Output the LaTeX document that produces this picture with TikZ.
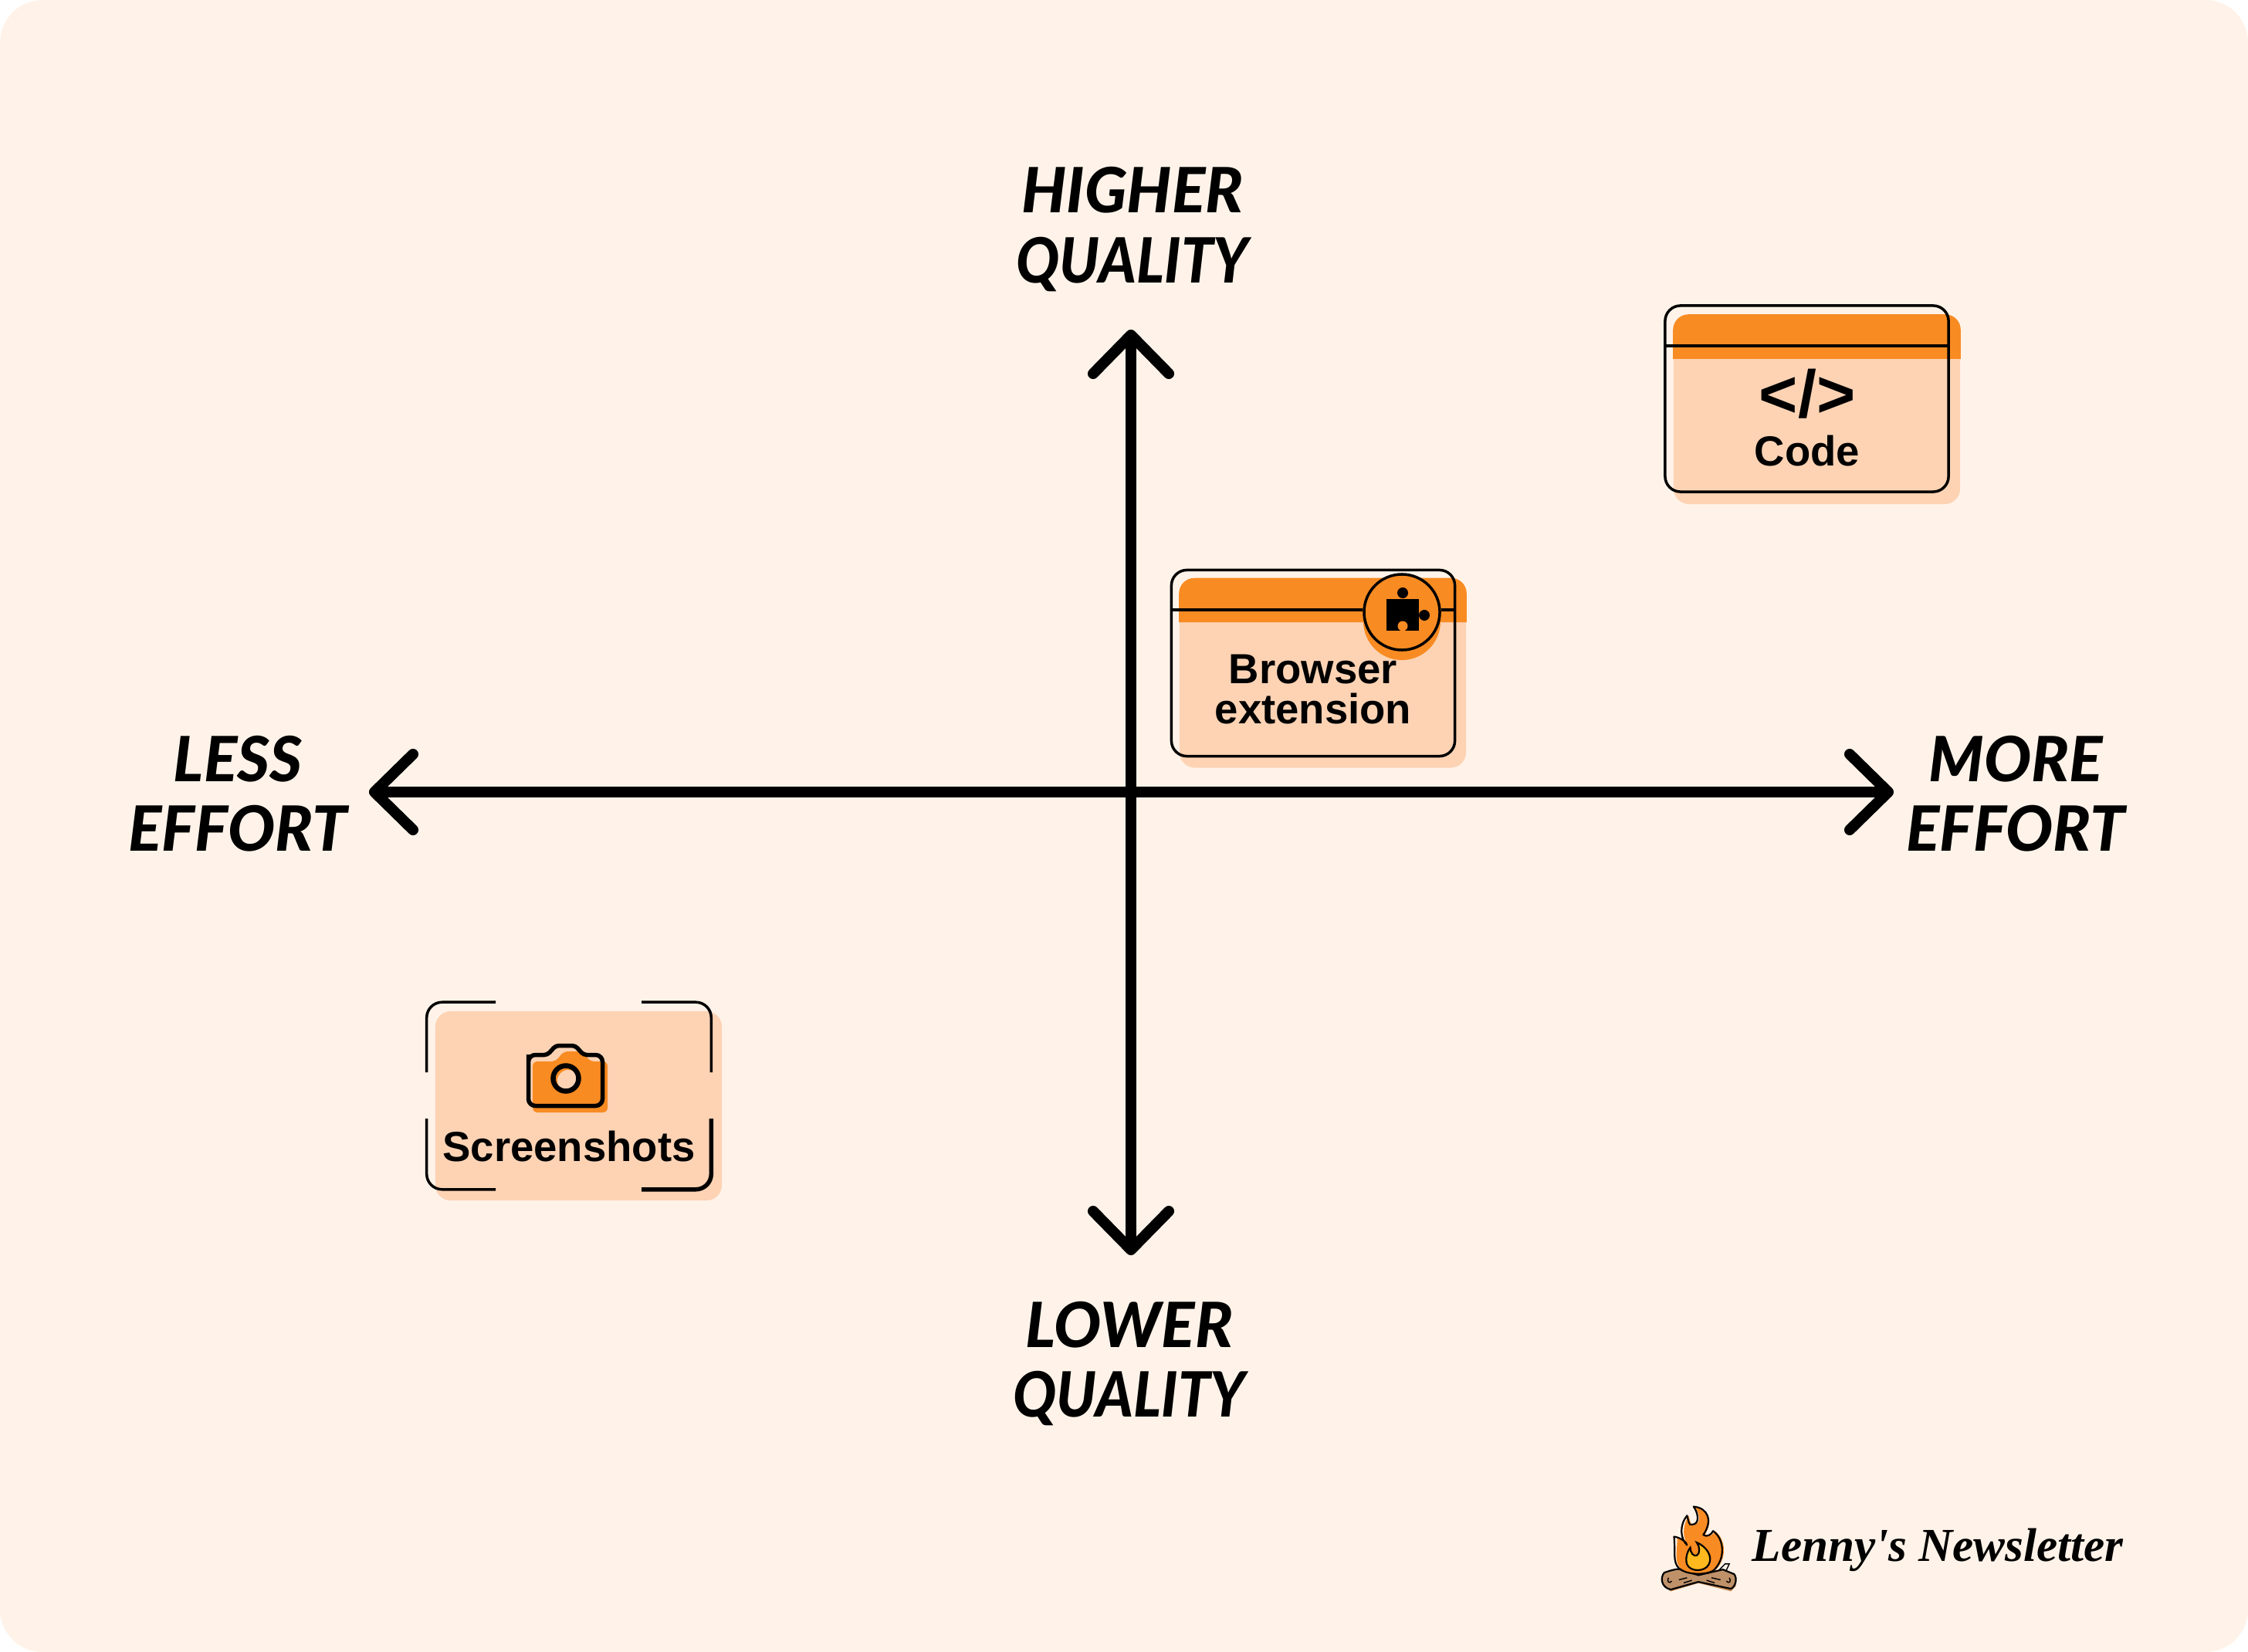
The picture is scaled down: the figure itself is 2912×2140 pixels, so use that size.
\documentclass[tikz,border=0pt]{standalone}
\usepackage{fontspec}
\setmainfont{Liberation Sans}
\newfontfamily\brushfont{Lato}[BoldItalicFont={Lato Black Italic}]
\newfontfamily\logofont{Liberation Serif}
\usetikzlibrary{arrows.meta}
\definecolor{pagebg}{HTML}{FFF3E9}
\definecolor{peach}{HTML}{FDD3B4}
\definecolor{flame}{HTML}{F88B22}
\definecolor{flamecore}{HTML}{FDB91E}
\definecolor{logwood}{HTML}{BF9169}
\newcommand{\narrowword}[1]{\scalebox{0.92}[1]{#1}}
\begin{document}
\begin{tikzpicture}[x=0.01cm,y=-0.01cm,
    axisline/.style={line width=0.14cm,line cap=round,
      {Straight Barb[round,length=0.5cm,width=0.98cm]}-{Straight Barb[round,length=0.5cm,width=0.98cm]}},
    cardfill/.style={rectangle,fill=peach,rounded corners=0.2cm,inner sep=0pt,minimum width=3.71cm,minimum height=2.45cm},
    cardline/.style={rectangle,draw,line width=0.035cm,rounded corners=0.2cm,inner sep=0pt,minimum width=3.67cm,minimum height=2.41cm},
    thinline/.style={line width=0.035cm},
    axislabel/.style={font=\brushfont\bfseries\itshape\fontsize{23}{25.6}\selectfont,align=center,inner sep=0pt},
    cardlabel/.style={font=\bfseries\fontsize{15.5}{14.8}\selectfont,align=center,inner sep=0pt}]
\path[use as bounding box,fill=white] (0,0) rectangle (2912,2140);
\fill[pagebg,rounded corners=0.55cm] (0,0) rectangle (2912,2140);
% axes
\coordinate (north) at (1465,427);
\coordinate (south) at (1465,1626);
\coordinate (west) at (478,1026);
\coordinate (east) at (2453,1026);
\draw[axisline] (south) -- (north);
\draw[axisline] (west) -- (east);
\node[axislabel] (higher) at (1467,297) {HIGHER\\\narrowword{QUALITY}};
\node[axislabel] (lower) at (1463,1766) {LOWER\\\narrowword{QUALITY}};
\node[axislabel] (less) at (308,1028) {LESS\\EFFORT};
\node[axislabel] (more) at (2611,1028) {MORE\\EFFORT};
% code card
\node[cardfill] (codefill) at (2353.5,530.5) {};
\fill[flame,rounded corners=0.2cm] (codefill.west |- 0,465) -- (codefill.north west) -- (codefill.north east) [sharp corners] -- (codefill.east |- 0,465) -- cycle;
\node[cardline] (codeline) at (2340.5,516.5) {};
\draw[thinline] (codeline.west |- 0,448) -- (codeline.east |- 0,448);
\node[cardlabel,font=\bfseries\fontsize{24.5}{25.6}\selectfont] (codeicon) at (2341,510) {</>};
\node[cardlabel] (codetext) at (2341,584) {Code};
% browser extension card
\node[cardfill] (browserfill) at (1713.5,872) {};
\fill[flame,rounded corners=0.2cm] (browserfill.west |- 0,806) -- (browserfill.north west) -- (browserfill.north east) [sharp corners] -- (browserfill.east |- 0,806) -- cycle;
\node[cardline] (browserline) at (1701,859) {};
\fill[flame] (1816,805) circle (0.5cm);
\node[circle,fill=flame,draw,line width=0.035cm,minimum size=0.98cm,inner sep=0pt] (badge) at (1816,793) {};
\draw[thinline] (browserline.west |- 0,790) -- (badge.west |- 0,790);
\draw[thinline] (badge.east |- 0,790) -- (browserline.east |- 0,790);
\fill (1796,776) rectangle (1838,817);
\fill (1817,768) circle (0.07cm);
\fill (1845,797) circle (0.07cm);
\fill[flame] (1817,811) circle (0.065cm);
\node[cardlabel] (browsertext) at (1701,893) {Browser\\extension};
% screenshots card
\node[cardfill] (shotfill) at (749.5,1432.5) {};
\node[rectangle,minimum width=3.67cm,minimum height=2.41cm,inner sep=0pt] (shotframe) at (737,1419.5) {};
\draw[thinline,rounded corners=0.2cm] (shotframe.west |- 0,1389) -- (shotframe.north west) -- (shotframe.north west -| 642,0);
\draw[thinline,rounded corners=0.2cm] (shotframe.north east -| 831,0) -- (shotframe.north east) -- (shotframe.east |- 0,1389);
\draw[thinline,rounded corners=0.2cm] (shotframe.west |- 0,1449) -- (shotframe.south west) -- (shotframe.south west -| 642,0);
\draw[line width=0.055cm,rounded corners=0.2cm] (shotframe.south east -| 831,0) -- (shotframe.south east) -- (shotframe.east |- 0,1449);
% camera
\fill[flame,rounded corners=0.06cm] (690,1375) -- (720,1375) -- (730,1362) -- (755,1362) -- (764,1375) -- (787,1375) -- (787,1441) -- (690,1441) -- cycle;
\fill[peach] (736,1400) circle (0.14cm);
\draw[line width=0.055cm,rounded corners=0.05cm] (684.5,1375) [rounded corners=0.09cm] -- (684.5,1366.5) [rounded corners=0.04cm] -- (709,1366.5) -- (720,1354.5) -- (745,1354.5) -- (756,1366.5) [rounded corners=0.09cm] -- (780.5,1366.5) -- (780.5,1432.5) -- (684.5,1432.5) -- cycle;
\draw[line width=0.065cm] (733,1397) circle (0.165cm);
\node[cardlabel] (shottext) at (737,1485) {Screenshots};
% logo
\begin{scope}[shift={(2120,1920)},x=0.00421cm,y=-0.00333cm]
\fill[logwood!80!flame] (85,360) -- (130,343) -- (265,345) -- (305,372) -- (305,405) -- (290,425) -- (190,393) -- (105,425) -- (80,400) -- cycle;
\draw[fill=logwood,line width=0.022cm,line join=round] (85,352) .. controls (100,345) and (120,338) .. (130,338) -- (190,362) -- (265,340) -- (300,358) .. controls (310,375) and (305,405) .. (290,415) -- (190,388) -- (105,418) .. controls (75,410) and (72,370) .. (85,352) -- cycle;
\draw[line width=0.014cm] (98,372) .. controls (92,385) and (100,398) .. (108,385);
\draw[line width=0.014cm] (285,372) .. controls (292,385) and (285,398) .. (276,385);
\draw[line width=0.014cm] (130,380) -- (155,372) (145,392) -- (170,382) (230,372) -- (258,380) (215,382) -- (240,392);
\draw[line width=0.014cm] (255,340) -- (272,318) -- (285,318) -- (275,345);
\fill[flame] (178,97) .. controls (225,110) and (235,150) .. (210,205) .. controls (232,215) and (235,200) .. (240,190) .. controls (275,220) and (280,300) .. (240,345) .. controls (215,362) and (160,362) .. (135,335) .. controls (115,310) and (125,270) .. (125,215) .. controls (140,215) and (160,235) .. (160,245) .. controls (140,220) and (140,170) .. (160,130) .. controls (165,150) and (165,170) .. (175,165) .. controls (200,165) and (195,120) .. (178,97) -- cycle;
\draw[line width=0.022cm,line join=round] (175,95) .. controls (220,100) and (235,150) .. (205,205) .. controls (215,215) and (230,205) .. (235,190) .. controls (270,220) and (275,300) .. (235,345) .. controls (210,362) and (155,362) .. (130,335) .. controls (110,310) and (120,270) .. (115,212) .. controls (135,215) and (155,235) .. (155,245) .. controls (135,220) and (130,170) .. (155,130) .. controls (160,150) and (160,170) .. (170,165) .. controls (195,165) and (190,120) .. (175,95) -- cycle;
\draw[fill=flamecore,line width=0.022cm] (185,235) .. controls (215,250) and (235,290) .. (222,320) .. controls (210,350) and (165,350) .. (155,320) .. controls (148,295) and (158,265) .. (165,255) .. controls (165,275) and (175,290) .. (185,285) .. controls (195,280) and (195,250) .. (185,235) -- cycle;
\end{scope}
\node[inner sep=0pt,anchor=base west] (logotext) at (2269,2022) {\logofont\bfseries\itshape\fontsize{17.4}{17.4}\selectfont Lenny's Newsletter};
\end{tikzpicture}
\end{document}
